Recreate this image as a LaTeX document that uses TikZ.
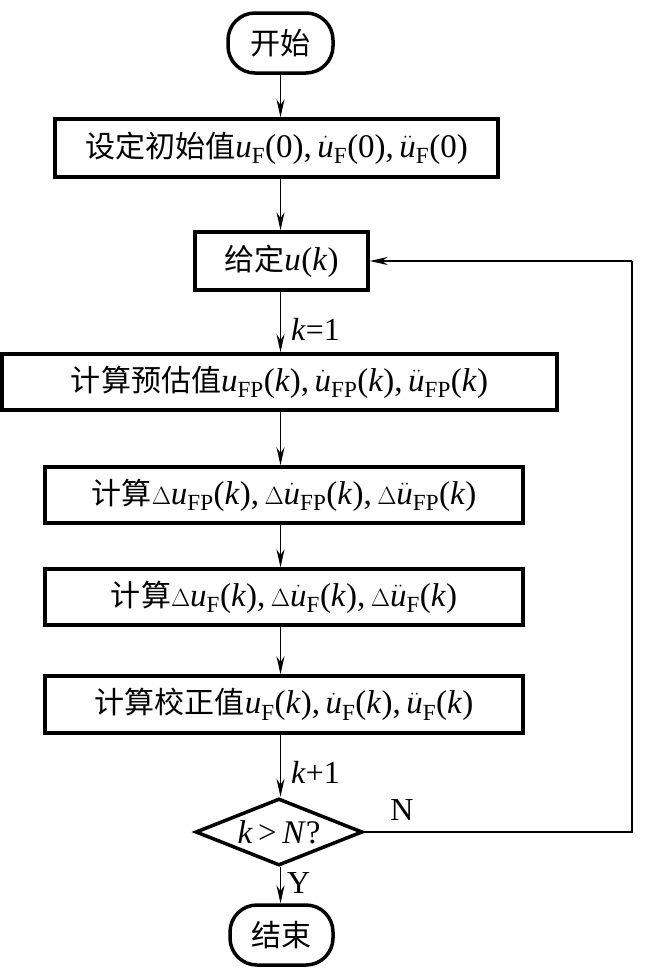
\documentclass[tikz,border=0pt]{standalone}
\usepackage{fontspec}
\setmainfont{Liberation Serif}
\newfontfamily\cjk[Scale=0.91]{Noto Sans CJK SC}
\usetikzlibrary{shapes.geometric,arrows.meta}
\newcommand{\vu}{\mathit{u}}
\newcommand{\vk}{\textit{k}}
\newcommand{\uu}[2]{$#1{\vu}_{\mathrm{#2}}$}
\begin{document}
\begin{tikzpicture}[x=1pt,y=-1pt,
  box/.style={draw,line width=3.5pt,inner sep=0pt,font=\fontsize{33}{38}\selectfont},
  term/.style={box,rounded corners=27pt},
  dec/.style={draw,line width=3.5pt,diamond,aspect=2.5,inner sep=0pt,minimum width=167pt,minimum height=67pt,font=\fontsize{33}{36}\selectfont},
  arr/.style={line width=1.3pt,-{Stealth[length=18pt,width=8pt]}},
  lab/.style={font=\fontsize{32}{36}\selectfont,inner sep=0pt}]
\useasboundingbox (0,0) rectangle (646,970);
\node[term,minimum width=105pt,minimum height=60pt] (start) at (280.5,43) {\cjk 开始};
\node[box,minimum width=443pt,minimum height=58pt] (init) at (276.5,148) {{\cjk 设定初始值}\uu{}{F}(0),\,\uu{\dot}{F}(0),\,\uu{\ddot}{F}(0)};
\node[box,minimum width=173pt,minimum height=58pt] (give) at (281.5,261) {{\cjk 给定}\uu{}{}(\vk)};
\node[box,minimum width=555pt,minimum height=56pt] (pred) at (279.5,382) {{\cjk 计算预估值}\uu{}{FP}(\vk),\,\uu{\dot}{FP}(\vk),\,\uu{\ddot}{FP}(\vk)};
\node[box,minimum width=478pt,minimum height=56pt] (dpred) at (284,495) {{\cjk 计算}$\Delta$\uu{}{FP}(\vk),\,$\Delta$\uu{\dot}{FP}(\vk),\,$\Delta$\uu{\ddot}{FP}(\vk)};
\node[box,minimum width=478pt,minimum height=56pt] (dcorr) at (284,597) {{\cjk 计算}$\Delta$\uu{}{F}(\vk),\,$\Delta$\uu{\dot}{F}(\vk),\,$\Delta$\uu{\ddot}{F}(\vk)};
\node[box,minimum width=478pt,minimum height=57pt] (corr) at (284,704.5) {{\cjk 计算校正值}\uu{}{F}(\vk),\,\uu{\dot}{F}(\vk),\,\uu{\ddot}{F}(\vk)};
\node[dec] (test) at (279,832) {\vk\,>\,\textit{N}?};
\node[term,minimum width=103pt,minimum height=60pt] (stop) at (281.5,935) {\cjk 结束};
\coordinate (loopb) at (632,832);
\coordinate (loopt) at (632,261);
\draw[arr] (start) -- (start|-init.north);
\draw[arr] (init.south-|start) -- (start|-give.north);
\draw[arr] (give.south-|start) -- (start|-pred.north) node[lab,pos=0.62,anchor=west,xshift=10pt] (k1) {\vk=1};
\draw[arr] (pred.south-|start) -- (start|-dpred.north);
\draw[arr] (dpred.south-|start) -- (start|-dcorr.north);
\draw[arr] (dcorr.south-|start) -- (start|-corr.north);
\draw[arr] (corr.south-|start) -- (start|-test.north) node[lab,pos=0.6,anchor=west,xshift=10pt] (kp1) {\vk+1};
\draw[arr] (test.south-|start) -- (start|-stop.north) node[lab,pos=0.45,anchor=west,xshift=6pt] (yes) {Y};
\draw[line width=1.3pt] (test.east) -- (loopb) -- (loopt);
\draw[arr] (loopt) -- (give.east);
\node[lab] (no) at (402,810) {N};
\end{tikzpicture}
\end{document}
